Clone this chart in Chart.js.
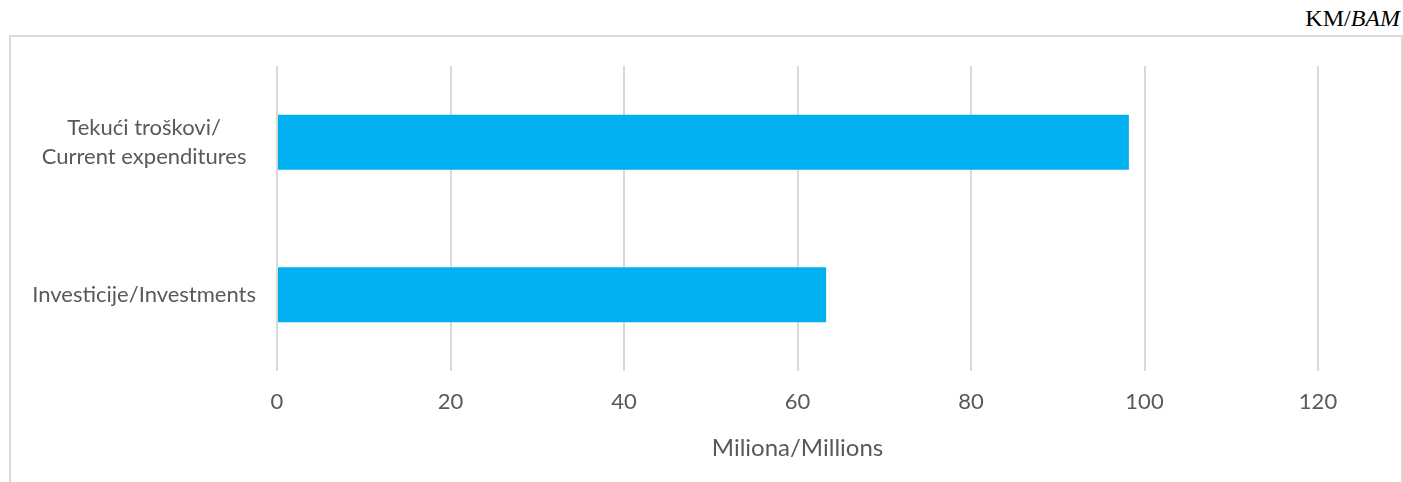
<!DOCTYPE html>
<html>
<head>
<meta charset="utf-8">
<script src="https://cdn.jsdelivr.net/npm/chart.js@4.4.0/dist/chart.umd.min.js"></script>
<style>
  html, body { margin: 0; padding: 0; background: #fff; }
  #wrap { position: relative; width: 1403px; height: 482px; overflow: hidden; }
  #frame {
    position: absolute; left: 9px; top: 35px; width: 1390px; height: 500px;
    border: 2px solid #d9d9d9; border-bottom: none;
  }
  #unit {
    position: absolute; right: 3px; top: 5px;
    font-family: "Liberation Serif", serif; font-size: 24px; color: #000;
  }
  #chart { position: absolute; left: 0; top: 0; }
</style>
</head>
<body>
<div id="wrap">
  <div id="frame"></div>
  <div id="unit">KM/<i>BAM</i></div>
  <canvas id="chart" width="1403" height="482"></canvas>
</div>
<script>
const categories = [
  ['Tekući troškovi/', 'Current expenditures'],
  'Investicije/Investments'
];
const amounts = [98.2, 63.3];
const xTicks = [0, 20, 40, 60, 80, 100, 120];
const xTitle = 'Miliona/Millions';

const labelFont = { family: 'Lato, "Open Sans", sans-serif', size: 22 };

const ctx = document.getElementById('chart').getContext('2d');
new Chart(ctx, {
  type: 'bar',
  data: {
    labels: categories,
    datasets: [{
      data: amounts,
      backgroundColor: '#00b0f0',
      borderWidth: 0,
      barPercentage: 0.36,
      categoryPercentage: 1
    }]
  },
  options: {
    indexAxis: 'y',
    responsive: false,
    animation: false,
    layout: { padding: { top: 66, right: 85, bottom: 0, left: 0 } },
    plugins: {
      legend: { display: false },
      tooltip: { enabled: false }
    },
    scales: {
      x: {
        min: xTicks[0],
        max: xTicks[xTicks.length - 1],
        afterBuildTicks: scale => { scale.ticks = xTicks.map(v => ({ value: v })); },
        afterFit: scale => { scale.height = 111; },
        grid: { color: '#d9d9d9', lineWidth: 2, drawTicks: false },
        border: { display: false },
        ticks: { color: '#595959', font: labelFont, padding: 18 },
        title: {
          display: true,
          text: xTitle,
          color: '#595959',
          font: { family: labelFont.family, size: 24 },
          padding: { top: 0, bottom: 19 }
        }
      },
      y: {
        afterFit: scale => { scale.width = 277; },
        grid: { display: false, drawTicks: false },
        border: { display: false },
        ticks: {
          color: '#595959',
          font: { family: labelFont.family, size: 22, lineHeight: 1.32 },
          padding: 21,
          crossAlign: 'center'
        }
      }
    }
  }
});
</script>
</body>
</html>
